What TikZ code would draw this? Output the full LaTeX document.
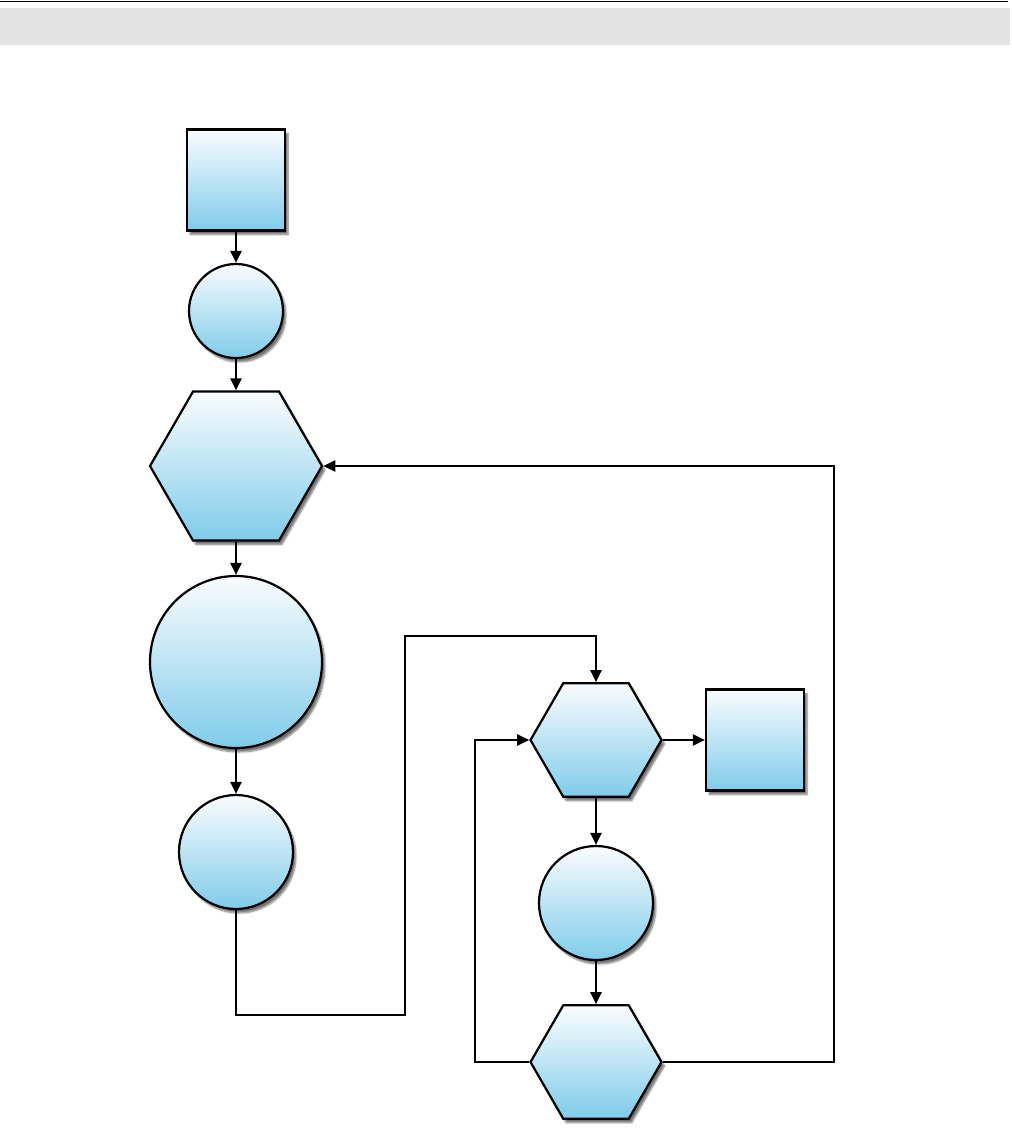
\documentclass[tikz,border=0pt]{standalone}
\usepackage{xcolor}
\usepackage{tikz}
\usetikzlibrary{positioning,shapes,arrows.meta,calc,shadows.blur}

\definecolor{boxtop}{RGB}{250,252,254}
\definecolor{boxmid}{RGB}{220,239,248}
\definecolor{boxbottom}{RGB}{128,204,234}
\definecolor{bargrey}{RGB}{226,227,226}

\tikzset{
    shape base/.style={draw=black, line width=2.2pt, inner sep=0pt,
        top color=boxtop, middle color=boxmid, bottom color=boxbottom,
        blur shadow={shadow xshift=3pt, shadow yshift=-4pt, shadow blur steps=6, shadow opacity=55}},
    squarebox/.style={shape base, rectangle, minimum width=98pt, minimum height=101pt},
    roundbox/.style={shape base, circle, minimum size=#1},
    hexbox/.style={shape base, regular polygon, regular polygon sides=6, minimum size=#1},
    flow/.style={line width=2.2pt, -{Triangle[length=12pt,width=11pt]}}
}

\begin{document}
\begin{tikzpicture}[x=1pt, y=-1pt]
    \useasboundingbox (0,0) rectangle (1012,1136);

    % header
    \draw[line width=1.6pt] (0,1.5) -- (1008,1.5);
    \fill[bargrey] (0,8) rectangle (1010,45);

    % left column
    \node[squarebox] (start) at (236,180) {};
    \node[roundbox=94pt] (c1) at (236,311) {};
    \node[hexbox=172pt] (h1) at (236,466) {};
    \node[roundbox=172pt] (c2) at (236,662) {};
    \node[roundbox=114pt] (c3) at (236,852) {};

    % right column
    \node[hexbox=131pt] (h2) at (596,740) {};
    \node[squarebox] (stop) at (755,740) {};
    \node[roundbox=114pt] (c4) at (596,903) {};
    \node[hexbox=131pt] (h3) at (596,1062) {};

    \draw[flow] (start) -- (c1);
    \draw[flow] (c1) -- (h1);
    \draw[flow] (h1) -- (c2);
    \draw[flow] (c2) -- (c3);

    \coordinate (jog) at (405,636);
    \draw[flow] (c3.south) -- ++(0,105) -| (jog) -| (h2.north);
    \draw[flow] (h2) -- (stop);
    \draw[flow] (h2) -- (c4);
    \draw[flow] (c4) -- (h3);
    \draw[flow] (h3.west) -- ++(-54,0) |- (h2.west);
    \draw[flow] (h3.east) -- ++(171,0) |- (h1.east);
\end{tikzpicture}
\end{document}
